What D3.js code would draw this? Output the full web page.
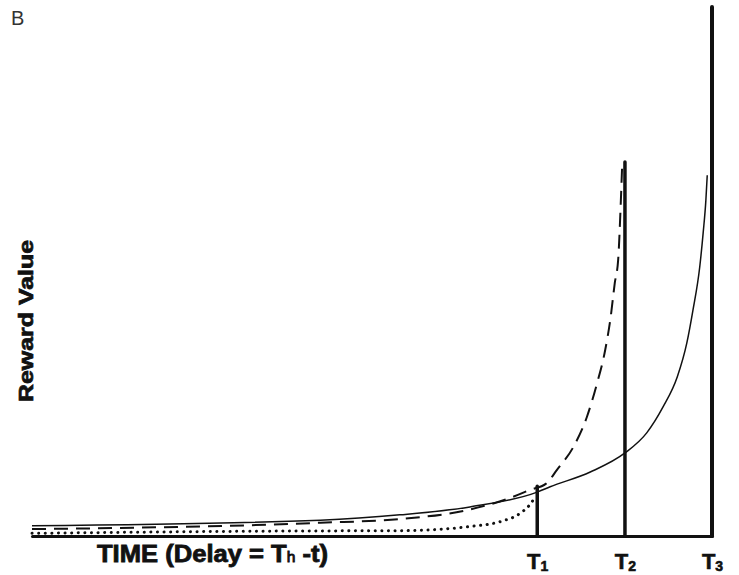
<!DOCTYPE html>
<html>
<head>
<meta charset="utf-8">
<script src="https://cdn.jsdelivr.net/npm/d3@7"></script>
<style>
  html, body { margin: 0; padding: 0; background: #fff; }
  svg { display: block; }
</style>
</head>
<body>
<svg id="chart" width="739" height="575"></svg>
<script>
// ---- data (time units: 0 = left edge, 100 = T3; value units: 0..100) ----
const rewardLabels = ["T", "T", "T"];
const rewardSubs = ["1", "2", "3"];
const rewardTimes = [74.3, 87.2, 100];
const rewardSizes = [9.4, 70.7, 100];

// dotted curve: discounted value of reward at T1
const dottedTime  = [0, 39.4, 54.1, 64.4, 68.8, 71.8, 73.2, 74.0];
const dottedValue = [0.5, 0.95, 1.0, 1.8, 2.7, 4.3, 5.9, 7.4];

// dashed curve: discounted value of reward at T2
const dashedTime  = [0, 42.4, 54.1, 64.0, 70.3, 73.2, 75.6, 77.2, 79.6, 81.6, 83.1, 84.3, 85.1, 85.7, 86.2, 86.6, 86.8];
const dashedValue = [1.3, 2.5, 3.2, 4.9, 7.2, 8.7, 9.9, 12.5, 16.8, 22.5, 28.9, 35.2, 41.4, 47.8, 52.2, 63.5, 70.5];

// solid curve: discounted value of reward at T3
const solidTime  = [0, 42.4, 54.1, 64.4, 74.3, 76.2, 82.1, 87.2, 90.4, 92.8, 94.9, 96.3, 97.2, 98.2, 98.7, 99.1, 99.3];
const solidValue = [1.95, 3.0, 4.0, 5.5, 8.3, 9.3, 12.1, 15.7, 19.5, 24.4, 30.1, 36.5, 42.7, 50.9, 57.3, 63.5, 68.2];

const panelLabel = "B";
const yTitle = "Reward Value";
const xTitleParts = ["TIME (Delay = T", "h", " -t)"];

// ---- drawing ----
const svg = d3.select("#chart");
const x = d3.scaleLinear().domain([0, 100]).range([32, 712]);
const y = d3.scaleLinear().domain([0, 100]).range([536, 7]);
const ink = "#111";

const line = d3.line()
  .x(d => x(d[0]))
  .y(d => y(d[1]))
  .curve(d3.curveMonotoneX);

const zip = (a, b) => a.map((v, i) => [v, b[i]]);

// x axis (baseline) with T labels as ticks
const xAxis = d3.axisBottom(x)
  .tickValues(rewardTimes)
  .tickSize(0)
  .tickSizeOuter(0)
  .tickFormat(() => "");
const gx = svg.append("g")
  .attr("transform", `translate(0,${y(0)})`)
  .call(xAxis);
gx.select(".domain").attr("stroke", ink).attr("stroke-width", 3).attr("stroke-linecap", "round");
gx.selectAll(".tick text").remove();
gx.selectAll(".tick").each(function(d, i) {
  const t = d3.select(this).append("text")
    .attr("y", 33)
    .attr("x", 0)
    .attr("text-anchor", "middle")
    .attr("fill", ink)
    .attr("stroke", ink)
    .attr("stroke-width", 0.6)
    .style("font-family", "'Liberation Sans', Arial, sans-serif")
    .style("font-weight", "bold");
  t.append("tspan").text(rewardLabels[i]).style("font-size", "22px");
  t.append("tspan").text(rewardSubs[i]).style("font-size", "14px").attr("dy", 2);
});

// curves
svg.append("path")
  .datum(zip(dottedTime, dottedValue))
  .attr("d", line)
  .attr("fill", "none")
  .attr("stroke", ink)
  .attr("stroke-width", 3)
  .attr("stroke-linecap", "round")
  .attr("stroke-dasharray", "0.1,6.5");

svg.append("path")
  .datum(zip(dashedTime, dashedValue))
  .attr("d", line)
  .attr("fill", "none")
  .attr("stroke", ink)
  .attr("stroke-width", 2)
  .attr("stroke-dasharray", "14,8");

svg.append("path")
  .datum(zip(solidTime, solidValue))
  .attr("d", line)
  .attr("fill", "none")
  .attr("stroke", ink)
  .attr("stroke-width", 1.5);

// reward bars
svg.selectAll("line.bar")
  .data(rewardTimes)
  .join("line")
  .attr("class", "bar")
  .attr("x1", d => x(d))
  .attr("x2", d => x(d))
  .attr("y1", y(0))
  .attr("y2", (d, i) => y(rewardSizes[i]))
  .attr("stroke", ink)
  .attr("stroke-width", (d, i) => i === 2 ? 4 : 3.5)
  .attr("stroke-linecap", "round");

// panel label
svg.append("text")
  .attr("x", 11)
  .attr("y", 25)
  .attr("fill", "#333")
  .style("font-family", "'Liberation Sans', Arial, sans-serif")
  .style("font-size", "20px")
  .text(panelLabel);

// y title
svg.append("text")
  .attr("transform", "translate(33,321) rotate(-90)")
  .attr("text-anchor", "middle")
  .attr("fill", ink)
  .attr("stroke", ink)
  .attr("stroke-width", 0.7)
  .attr("textLength", 162)
  .attr("lengthAdjust", "spacingAndGlyphs")
  .style("font-family", "'Liberation Sans', Arial, sans-serif")
  .style("font-weight", "bold")
  .style("font-size", "20px")
  .text(yTitle);

// x title
const xt = svg.append("text")
  .attr("x", 97)
  .attr("y", 562)
  .attr("fill", ink)
  .attr("stroke", ink)
  .attr("stroke-width", 0.8)
  .attr("textLength", 231)
  .attr("lengthAdjust", "spacingAndGlyphs")
  .style("font-family", "'Liberation Sans', Arial, sans-serif")
  .style("font-weight", "bold")
  .style("font-size", "23px");
xt.append("tspan").text(xTitleParts[0]);
xt.append("tspan").text(xTitleParts[1]).style("font-size", "14px").style("font-weight", "normal");
xt.append("tspan").text(xTitleParts[2]);
</script>
</body>
</html>
